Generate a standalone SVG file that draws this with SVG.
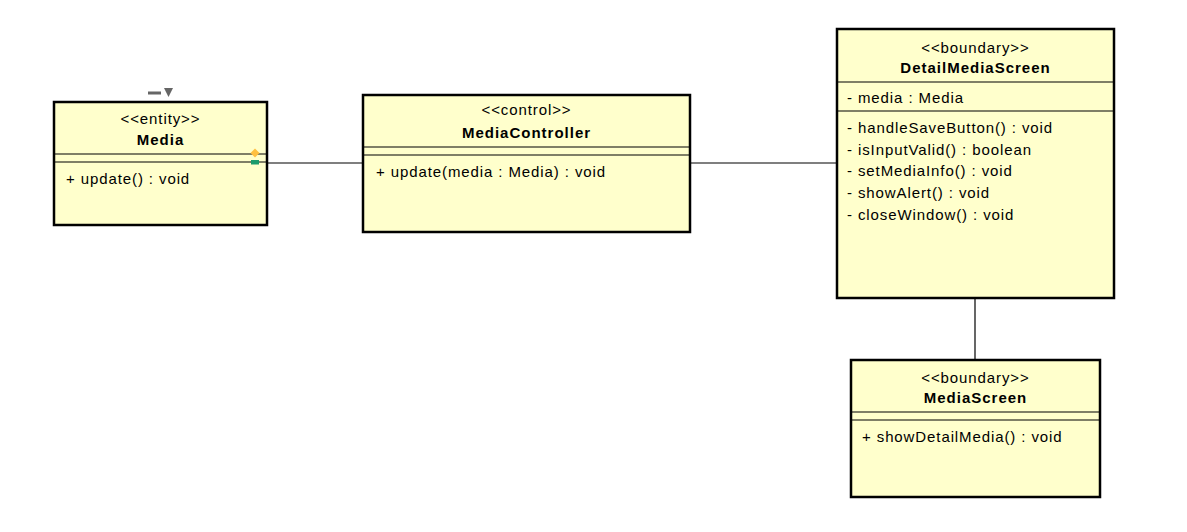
<svg xmlns="http://www.w3.org/2000/svg" width="1187" height="532" viewBox="0 0 1187 532">
<style>
.box{fill:#FFFFCC;stroke:#000;stroke-width:2.5}
.sep{stroke:#000;stroke-width:1.2}
.conn{stroke:#000;stroke-width:1.2;fill:none}
text{font-family:"Liberation Sans",Arial,sans-serif;font-size:15px;fill:#000;letter-spacing:0.9px}
.c{text-anchor:middle}
.b{font-weight:bold;letter-spacing:1px}
</style>
<rect width="1187" height="532" fill="#fff"/>
<g id="connectors">
<line class="conn" x1="267" y1="163" x2="363" y2="163"/>
<line class="conn" x1="690" y1="163" x2="837" y2="163"/>
<line class="conn" x1="975" y1="298" x2="975" y2="360"/>
</g>
<g id="Media">
<rect class="box" x="54" y="102" width="213" height="123"/>
<line class="sep" x1="54" y1="154" x2="267" y2="154"/>
<line class="sep" x1="54" y1="162" x2="267" y2="162"/>
<text class="c" x="160.5" y="124">&lt;&lt;entity&gt;&gt;</text>
<text class="c b" x="160.5" y="145">Media</text>
<text x="66" y="184">+ update() : void</text>
<rect x="148" y="91.5" width="13" height="3" fill="#666"/>
<polygon points="164,88 173,88 168.5,97" fill="#666"/>
<polygon points="255,148.5 259.5,153 255,157.5 250.5,153" fill="#FFC040"/>
<rect x="251" y="160" width="8" height="4.5" fill="#1B9B6B"/>
</g>
<g id="MediaController">
<rect class="box" x="363" y="95" width="327" height="137"/>
<line class="sep" x1="363" y1="147" x2="690" y2="147"/>
<line class="sep" x1="363" y1="155" x2="690" y2="155"/>
<text class="c" x="526.5" y="115">&lt;&lt;control&gt;&gt;</text>
<text class="c b" x="526.5" y="138">MediaController</text>
<text x="376" y="177">+ update(media : Media) : void</text>
</g>
<g id="DetailMediaScreen">
<rect class="box" x="837" y="29" width="277" height="269"/>
<line class="sep" x1="837" y1="82" x2="1114" y2="82"/>
<line class="sep" x1="837" y1="111" x2="1114" y2="111"/>
<text class="c" x="975.5" y="53">&lt;&lt;boundary&gt;&gt;</text>
<text class="c b" x="975.5" y="73">DetailMediaScreen</text>
<text x="847" y="103">- media : Media</text>
<text x="847" y="133">- handleSaveButton() : void</text>
<text x="847" y="155">- isInputValid() : boolean</text>
<text x="847" y="176">- setMediaInfo() : void</text>
<text x="847" y="198">- showAlert() : void</text>
<text x="847" y="220">- closeWindow() : void</text>
</g>
<g id="MediaScreen">
<rect class="box" x="851" y="360" width="249" height="137"/>
<line class="sep" x1="851" y1="412" x2="1100" y2="412"/>
<line class="sep" x1="851" y1="420" x2="1100" y2="420"/>
<text class="c" x="975.5" y="383">&lt;&lt;boundary&gt;&gt;</text>
<text class="c b" x="975.5" y="403">MediaScreen</text>
<text x="862" y="442">+ showDetailMedia() : void</text>
</g>
</svg>
